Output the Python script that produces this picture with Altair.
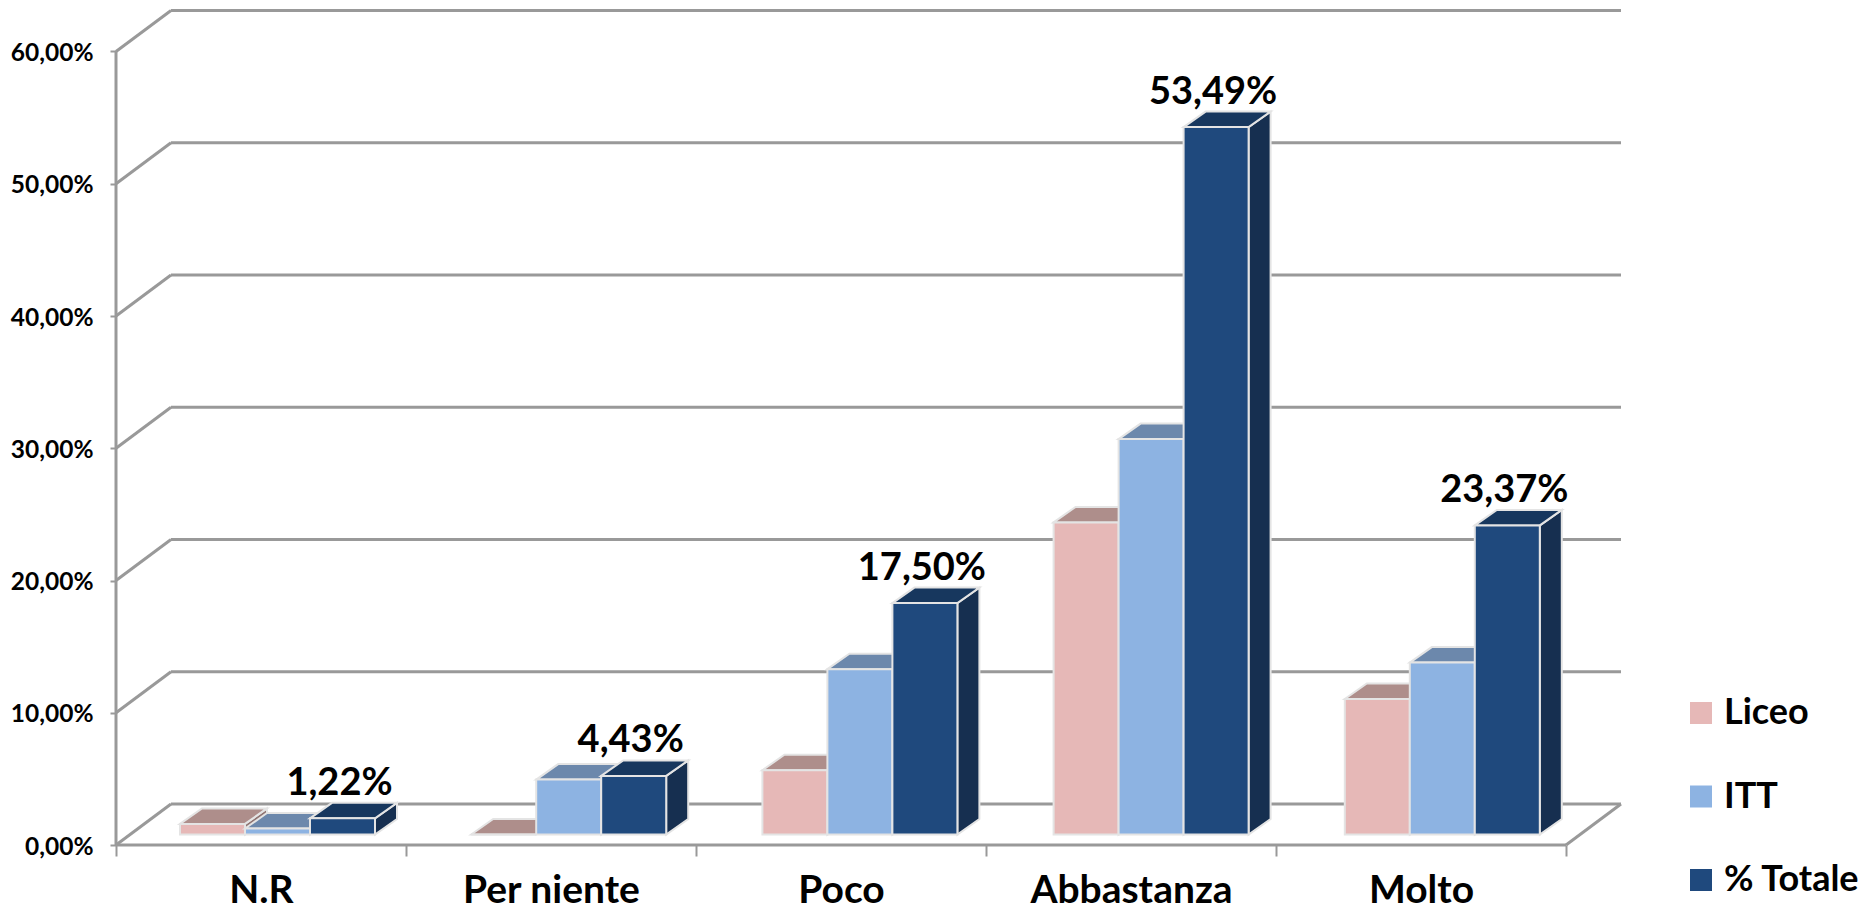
import altair as alt
import pandas as pd

categories = ["N.R", "Per niente", "Poco", "Abbastanza", "Molto"]
series = ["Liceo", "ITT", "% Totale"]
liceo = [0.8, 0.0, 4.86, 23.6, 10.25]
itt = [0.45, 4.15, 12.5, 29.9, 13.0]
totale = [1.22, 4.43, 17.50, 53.49, 23.37]
total_labels = ["1,22%", "4,43%", "17,50%", "53,49%", "23,37%"]
y_ticks = [0, 10, 20, 30, 40, 50, 60]

front_colors = ["#e6b8b7", "#8db3e2", "#1f497d"]
top_colors = ["#ae8e8b", "#6c88ac", "#17375e"]
side_colors = ["#8f7472", "#5a7391", "#162f50"]
GRID = "#999999"
EDGE = "#e4e4e4"
FONT = "Lato"

# Geometry expressed in axis units (slots on x, percent on y)
PX_X, PX_Y = 290.0, 13.225
WIDTH, HEIGHT = 1740, 837
WALL_DX, WALL_DY = 55 / PX_X, 41 / PX_Y
BAR_DX, BAR_DY = 22 / PX_X, 15.5 / PX_Y
BAR_W = 65 / PX_X
GROUP_START = 64 / PX_X
GROUP_PITCH = 291.2 / PX_X
BASE = 10.5 / PX_Y

xs = alt.Scale(domain=[0, WIDTH / PX_X], nice=False, zero=False)
ys = alt.Scale(domain=[0, HEIGHT / PX_Y], nice=False, zero=False)

# Frame of the 3D box
segments = []
top = y_ticks[-1]
segments.append(dict(x=0, x2=0, y=0, y2=top))
segments.append(dict(x=0, x2=len(categories), y=0, y2=0))
segments.append(dict(x=len(categories), x2=len(categories) + WALL_DX, y=0, y2=WALL_DY))
for t in y_ticks:
    segments.append(dict(x=0, x2=WALL_DX, y=t, y2=t + WALL_DY))
    segments.append(dict(x=WALL_DX, x2=len(categories) + WALL_DX, y=t + WALL_DY, y2=t + WALL_DY))
seg_df = pd.DataFrame(segments)

x_axis = alt.Axis(
    values=[i / 2 for i in range(2 * len(categories) + 1)],
    title=None, domain=False, grid=False,
    tickColor=GRID, tickWidth=2, tickSize=11,
    tickOpacity={"condition": {"test": "datum.value % 1 === 0", "value": 1}, "value": 0},
    labelExpr="datum.value % 1 === 0.5 ? " + str(categories) + "[floor(datum.value)] : ''",
    labelFont=FONT, labelFontWeight="bold", labelFontSize=39, labelColor="#000000",
    labelPadding=15, labelLimit=500, labelOverlap=False, labelBound=False, labelFlush=False, labelAngle=0,
)
y_axis = alt.Axis(
    values=y_ticks, title=None, domain=False, grid=False,
    tickColor=GRID, tickWidth=2, tickSize=6,
    labelExpr="replace(format(datum.value, '.2f'), '.', ',') + '%'",
    labelFont=FONT, labelFontWeight="bold", labelFontSize=24.5, labelColor="#000000",
    labelPadding=17, labelOffset=2, labelOverlap=False, labelBound=False,
)
X = alt.X("x:Q", scale=xs, axis=x_axis)
Y = alt.Y("y:Q", scale=ys, axis=y_axis)

layers = [
    alt.Chart(seg_df).mark_rule(color=GRID, strokeWidth=3).encode(
        x=X, x2="x2:Q", y=Y, y2="y2:Q",
    )
]

legend = alt.Legend(
    title=None, orient="none", legendX=1567, legendY=687,
    symbolType="square", symbolSize=484, symbolStrokeWidth=0, symbolOpacity=1,
    labelFont=FONT, labelFontWeight="bold", labelFontSize=36, labelColor="#000000",
    rowPadding=47.5, labelOffset=5, labelLimit=300,
)

all_values = [liceo, itt, totale]
for s, (name, vals) in enumerate(zip(series, all_values)):
    fronts, tops, sides = [], [], []
    for c, v in enumerate(vals):
        x0 = c * GROUP_PITCH + GROUP_START + s * BAR_W
        x1 = x0 + BAR_W
        yb, yt = BASE, BASE + v
        fronts.append(dict(series=name, x=x0, x2=x1, y=yb, y2=yt))
        tops += [
            dict(cat=c, x=x0, y=yt, y2=yt),
            dict(cat=c, x=x0 + BAR_DX, y=yt + BAR_DY, y2=yt),
            dict(cat=c, x=x1, y=yt + BAR_DY, y2=yt),
            dict(cat=c, x=x1 + BAR_DX, y=yt + BAR_DY, y2=yt + BAR_DY),
        ]
        sides += [
            dict(cat=c, x=x1, y=yt, y2=yb),
            dict(cat=c, x=x1 + BAR_DX, y=yt + BAR_DY, y2=yb + BAR_DY),
        ]
    for rows, col in ((sides, side_colors[s]), (tops, top_colors[s])):
        layers.append(
            alt.Chart(pd.DataFrame(rows)).mark_area(
                color=col, stroke=EDGE, strokeWidth=2, opacity=1
            ).encode(x=X, y=Y, y2="y2:Q", detail="cat:N")
        )
    layers.append(
        alt.Chart(pd.DataFrame(fronts)).mark_rect(stroke=EDGE, strokeWidth=2, opacity=1).encode(
            x=X,
            x2="x2:Q",
            y=Y,
            y2="y2:Q",
            color=alt.Color(
                "series:N",
                scale=alt.Scale(domain=series, range=front_colors),
                legend=legend,
            ),
        )
    )

label_df = pd.DataFrame(
    {
        "x": [c * GROUP_PITCH + GROUP_START + 2.5 * BAR_W - 3 / PX_X for c in range(len(categories))],
        "y": [BASE + v + BAR_DY for v in totale],
        "label": total_labels,
    }
)
layers.append(
    alt.Chart(label_df).mark_text(
        font=FONT, fontWeight="bold", fontSize=38, color="#000000", baseline="bottom", dy=0
    ).encode(x=X, y=Y, text="label:N")
)

chart = (
    alt.layer(*layers)
    .properties(
        width=WIDTH,
        height=HEIGHT,
        autosize=alt.AutoSizeParams(type="none"),
        padding={"left": 108, "top": 0, "right": 5, "bottom": 64},
        background="#ffffff",
    )
    .configure_view(stroke=None)
)

chart.save("out.html", embed_options={"renderer": "svg", "actions": False})
